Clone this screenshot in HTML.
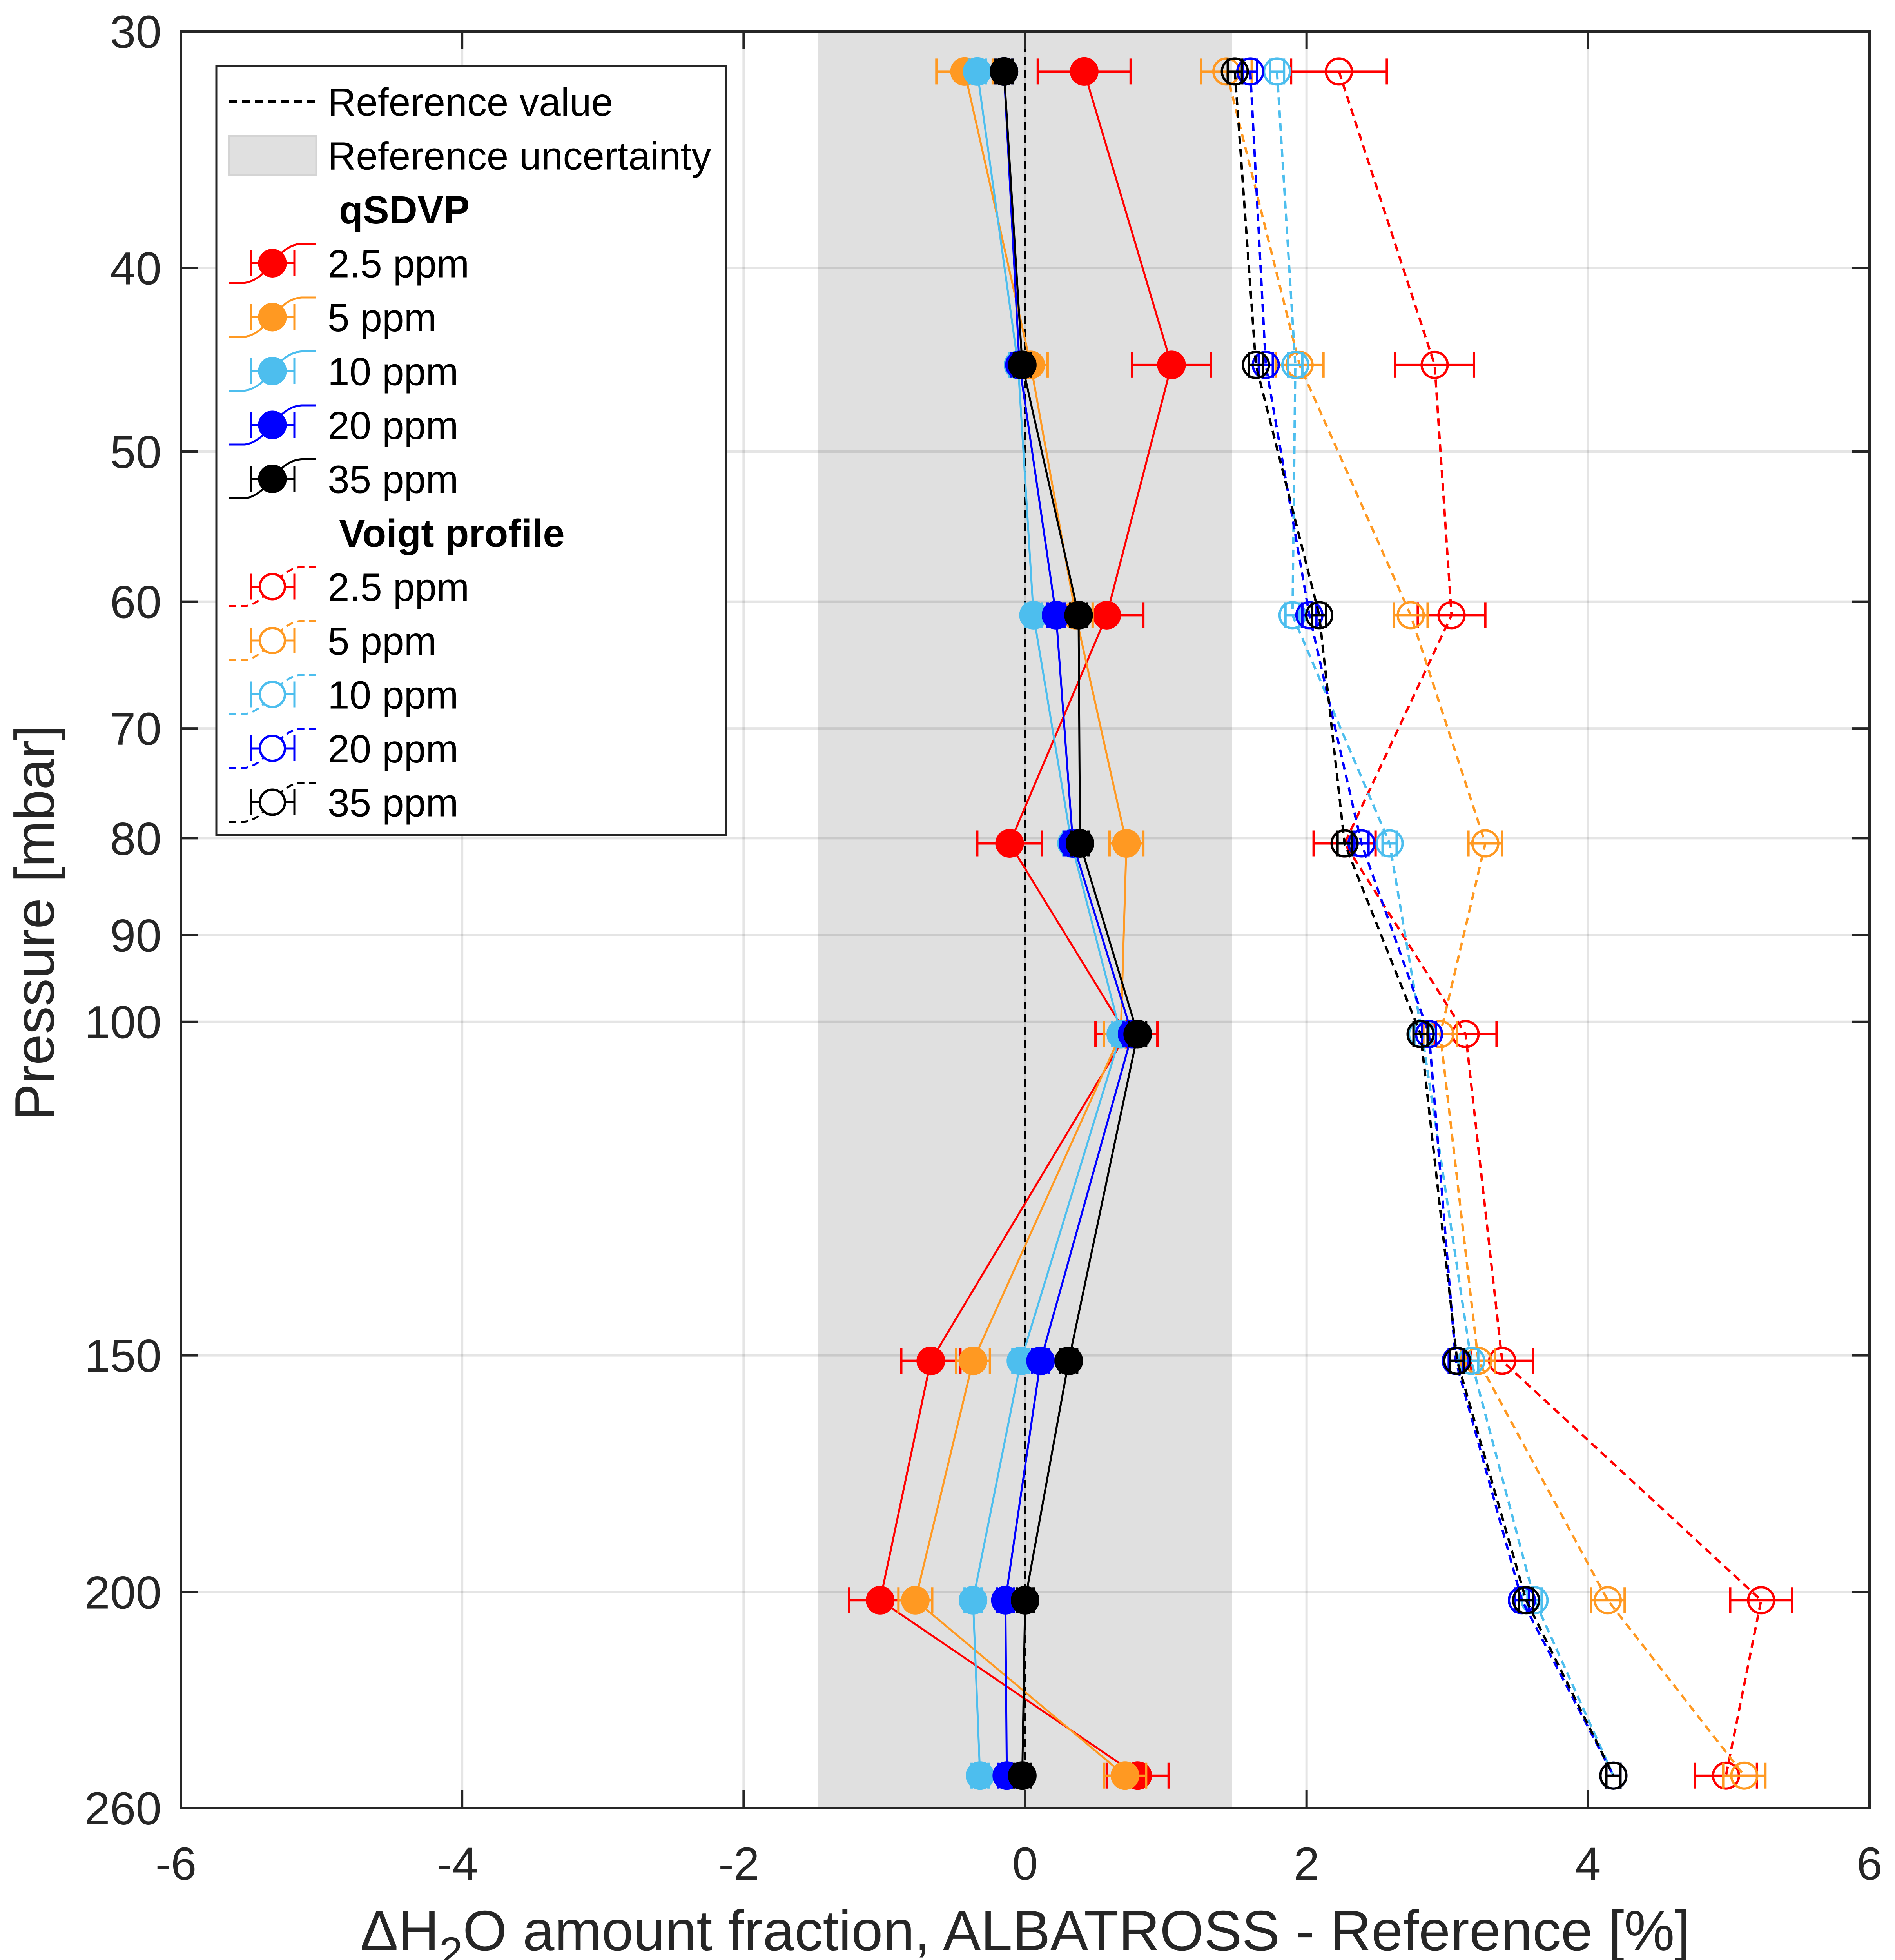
<!DOCTYPE html>
<html><head><meta charset="utf-8">
<style>
html,body{margin:0;padding:0;background:#fff;width:4835px;height:5075px;overflow:hidden;}
svg{display:block;font-family:"Liberation Sans",Arial,sans-serif;}
</style></head>
<body>
<svg id="chart" width="4835" height="5075" viewBox="0 0 4835 5075" xmlns="http://www.w3.org/2000/svg">
<rect x="0" y="0" width="4835" height="5075" fill="#fff"/>
<g id="plot"></g>
<g id="legend"></g>
</svg>
<script>
// ---- data ----
const pressures = [31.5, 45, 61, 80.5, 101.5, 151, 202, 250];
const seriesNames = ["2.5 ppm","5 ppm","10 ppm","20 ppm","35 ppm"];
const colors = ["#ff0000","#ff9922","#4dbeee","#0000ff","#000000"];
// qSDVP (filled)
const q25 = [0.42, 1.04, 0.58, -0.11, 0.72, -0.67, -1.03, 0.80];
const q5  = [-0.43, 0.04, 0.36, 0.72, 0.68, -0.37, -0.78, 0.71];
const q10 = [-0.34, -0.05, 0.06, 0.33, 0.68, -0.03, -0.37, -0.32];
const q20 = [-0.15, -0.04, 0.22, 0.34, 0.76, 0.11, -0.14, -0.13];
const q35 = [-0.15, -0.02, 0.38, 0.39, 0.80, 0.31, 0.00, -0.02];
const qErr25 = [0.33, 0.28, 0.26, 0.23, 0.22, 0.21, 0.22, 0.22];
const qErr5  = [0.2, 0.12, 0.12, 0.12, 0.12, 0.12, 0.12, 0.15];
const qErrS  = [0.06, 0.06, 0.06, 0.06, 0.06, 0.06, 0.06, 0.06];
// Voigt (open)
const v25 = [2.23, 2.91, 3.03, 2.27, 3.13, 3.39, 5.23, 4.98];
const v5  = [1.43, 1.95, 2.74, 3.27, 2.95, 3.22, 4.14, 5.11];
const v10 = [1.79, 1.92, 1.90, 2.59, 2.82, 3.17, 3.62, 4.18];
const v20 = [1.60, 1.71, 2.02, 2.39, 2.87, 3.06, 3.53, 4.18];
const v35 = [1.49, 1.64, 2.09, 2.27, 2.81, 3.07, 3.56, 4.18];
const vErr25 = [0.34, 0.28, 0.24, 0.22, 0.22, 0.22, 0.22, 0.22];
const vErr5  = [0.18, 0.17, 0.12, 0.12, 0.12, 0.12, 0.12, 0.15];
const vErrS  = [0.05, 0.05, 0.05, 0.05, 0.05, 0.05, 0.05, 0.05];
const xTicks = [-6,-4,-2,0,2,4,6];
const yTicks = [30,40,50,60,70,80,90,100,150,200,260];
const refUnc = 1.47;

// ---- axes ----
const L=461, R=4770, T=80, B=4612;
const xMin=-6, xMax=6, pMin=30, pMax=260;
function X(v){return L+(v-xMin)/(xMax-xMin)*(R-L);}
function Y(p){return T+Math.log(p/pMin)/Math.log(pMax/pMin)*(B-T);}
const NS="http://www.w3.org/2000/svg";
const plot=document.getElementById('plot');
function el(tag,attrs,parent){const e=document.createElementNS(NS,tag);for(const k in attrs)e.setAttribute(k,attrs[k]);(parent||plot).appendChild(e);return e;}

// shaded region
let sh=el('rect',{x:X(-refUnc),y:T,width:X(refUnc)-X(-refUnc),height:B-T,fill:'#e0e0e0'});


// grid
for(const t of xTicks){
  let g=el('line',{x1:X(t),x2:X(t),y1:T,y2:B,stroke:'#000','stroke-opacity':0.1,'stroke-width':6});
  
  
}
for(const t of yTicks){
  let g=el('line',{x1:L,x2:R,y1:Y(t),y2:Y(t),stroke:'#000','stroke-opacity':0.1,'stroke-width':6});
  
  
}
// reference line
let rl=el('line',{x1:X(0),x2:X(0),y1:T,y2:B,stroke:'#000','stroke-width':6,'stroke-dasharray':'20 13'});



function drawSeries(vals,errs,color,filled,name){
  const g=el('g',{});
  
  
  const pts=vals.map((v,i)=>X(v)+','+Y(pressures[i])).join(' ');
  el('polyline',{points:pts,fill:'none',stroke:color,'stroke-width':filled?5:6,'stroke-dasharray':filled?'none':'20 13'},g);
  vals.forEach((v,i)=>{
    const y=Y(pressures[i]), e=errs[i];
    el('line',{x1:X(v-e),x2:X(v+e),y1:y,y2:y,stroke:color,'stroke-width':6},g);
    el('line',{x1:X(v-e),x2:X(v-e),y1:y-33,y2:y+33,stroke:color,'stroke-width':6},g);
    el('line',{x1:X(v+e),x2:X(v+e),y1:y-33,y2:y+33,stroke:color,'stroke-width':6},g);
    const c=el('circle',{cx:X(v),cy:y,r:filled?36:33,fill:filled?color:'none',stroke:color,'stroke-width':filled?1:6},g);
    
    
  });
}
const qS=[q25,q5,q10,q20,q35], qE=[qErr25,qErr5,qErrS,qErrS,qErrS];
const vS=[v25,v5,v10,v20,v35], vE=[vErr25,vErr5,vErrS,vErrS,vErrS];
for(let i=0;i<5;i++) drawSeries(vS[i],vE[i],colors[i],false,'voigt-series-'+i);
for(let i=0;i<5;i++) drawSeries(qS[i],qE[i],colors[i],true,'qsdvp-series-'+i);

// axes box & ticks
let box=el('rect',{x:L,y:T,width:R-L,height:B-T,fill:'none',stroke:'#262626','stroke-width':6});


for(const t of xTicks){
  el('line',{x1:X(t),x2:X(t),y1:B,y2:B-45,stroke:'#262626','stroke-width':6});
  el('line',{x1:X(t),x2:X(t),y1:T,y2:T+45,stroke:'#262626','stroke-width':6});
  let tx=el('text',{x:X(t)+(t<0?-12:0),y:4795,'text-anchor':'middle','font-size':118,fill:'#262626'});
  tx.textContent=String(t);
  
  
}
for(const t of yTicks){
  el('line',{x1:L,x2:L+45,y1:Y(t),y2:Y(t),stroke:'#262626','stroke-width':6});
  el('line',{x1:R,x2:R-45,y1:Y(t),y2:Y(t),stroke:'#262626','stroke-width':6});
  let tx=el('text',{x:412,y:Y(t)+42,'text-anchor':'end','font-size':118,fill:'#262626'});
  tx.textContent=String(t);
  
  
}
let yl=el('text',{x:0,y:0,transform:'translate(137,2354) rotate(-90)','text-anchor':'middle','font-size':142,fill:'#262626'});
yl.textContent='Pressure [mbar]';


let xl=el('text',{x:2616,y:4975,'text-anchor':'middle','font-size':145,fill:'#262626'});
xl.innerHTML='ΔH<tspan dy="42" font-size="108">2</tspan><tspan dy="-42">O amount fraction, ALBATROSS - Reference [%]</tspan>';



// legend
const leg=document.getElementById('legend');


el('rect',{x:552,y:169,width:1301,height:1961,fill:'#fff',stroke:'#262626','stroke-width':5},leg);
const rowY=i=>259+i*137.5;
el('line',{x1:585,x2:807,y1:rowY(0),y2:rowY(0),stroke:'#000','stroke-width':6,'stroke-dasharray':'20 13'},leg);
el('rect',{x:585,y:rowY(1)-50,width:222,height:100,fill:'#e0e0e0',stroke:'#d4d4d4','stroke-width':5},leg);
function ltext(i,str,bold,x){const t=el('text',{x:x||836,y:rowY(i)+36,'font-size':100,'font-weight':bold?'bold':'normal',fill:'#000'},leg);t.textContent=str;}
ltext(0,'Reference value');ltext(1,'Reference uncertainty');
ltext(2,'qSDVP',true,865);ltext(8,'Voigt profile',true,865);
function licon(i,color,filled){
  const y=rowY(i);
  el('path',{d:`M585 ${y+50} L625 ${y+50} Q660 ${y+45} 695 ${y} Q730 ${y-48} 770 ${y-50} L807 ${y-50}`,fill:'none',stroke:color,'stroke-width':5,'stroke-dasharray':filled?'none':'18 12'},leg);
  el('line',{x1:640,x2:751,y1:y,y2:y,stroke:color,'stroke-width':5},leg);
  el('line',{x1:640,x2:640,y1:y-33,y2:y+33,stroke:color,'stroke-width':5},leg);
  el('line',{x1:751,x2:751,y1:y-33,y2:y+33,stroke:color,'stroke-width':5},leg);
  el('circle',{cx:695,cy:y,r:filled?36:32,fill:filled?color:'#fff',stroke:color,'stroke-width':filled?1:6},leg);
}
for(let i=0;i<5;i++){licon(3+i,colors[i],true);ltext(3+i,seriesNames[i]);}
for(let i=0;i<5;i++){licon(9+i,colors[i],false);ltext(9+i,seriesNames[i]);}
</script>
</body></html>
